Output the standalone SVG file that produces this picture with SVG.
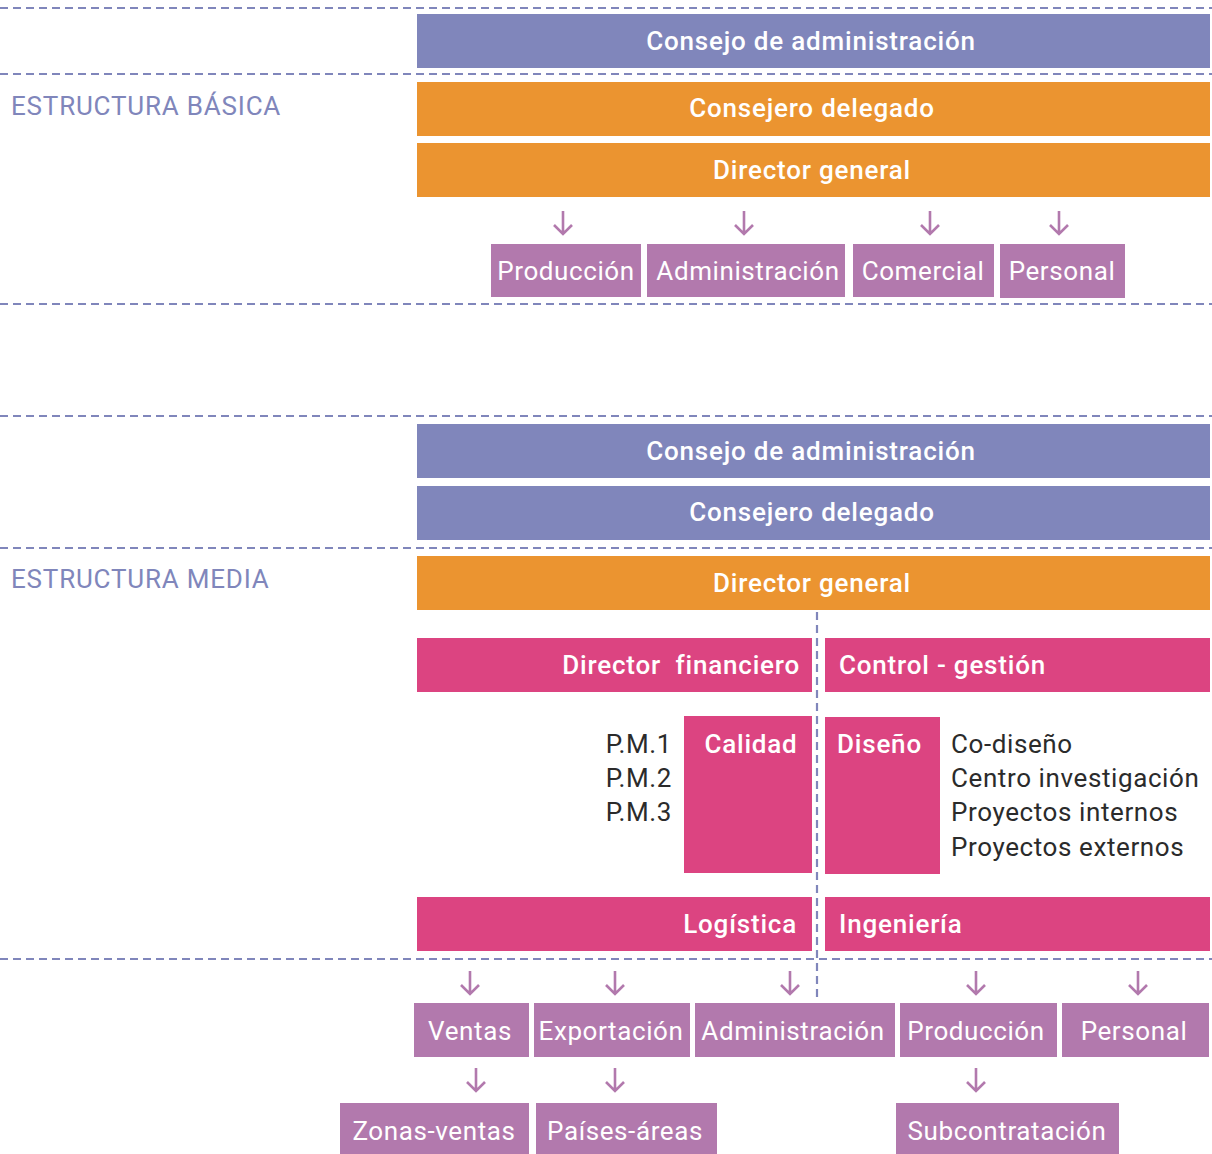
<svg xmlns="http://www.w3.org/2000/svg" width="1212" height="1154" viewBox="0 0 1212 1154">
<defs>
<style>
.sep{stroke:#8086bb;stroke-width:2.2;stroke-dasharray:8 5;fill:none}
.blue{fill:#8086bb}
.orange{fill:#eb9430}
.pink{fill:#dc4481}
.mauve{fill:#b279ad}
.hd{font-family:Roboto,"Liberation Sans",sans-serif;font-size:26px;font-weight:500;fill:#ffffff;letter-spacing:0.8px}
.lb{font-family:Roboto,"Liberation Sans",sans-serif;font-size:26px;font-weight:400;fill:#ffffff;letter-spacing:0.6px}
.dk{font-family:Roboto,"Liberation Sans",sans-serif;font-size:26px;font-weight:400;fill:#2b2b2b;letter-spacing:0.6px}
.sec{font-family:Roboto,"Liberation Sans",sans-serif;font-size:26px;font-weight:400;fill:#8086bb;letter-spacing:0.8px}
.arr{stroke:#b279ad;stroke-width:2.6;fill:none}
</style>
</defs>
<rect width="1212" height="1154" fill="#ffffff"/>
<g id="separators">
<line class="sep" x1="0" y1="8" x2="1212" y2="8"/>
<line class="sep" x1="0" y1="74" x2="1212" y2="74"/>
<line class="sep" x1="0" y1="304" x2="1212" y2="304"/>
<line class="sep" x1="0" y1="416" x2="1212" y2="416"/>
<line class="sep" x1="0" y1="548" x2="1212" y2="548"/>
<line class="sep" x1="0" y1="959" x2="1212" y2="959"/>
<line class="sep" x1="817" y1="612" x2="817" y2="997"/>
</g>
<text class="sec" x="11" y="115">ESTRUCTURA BÁSICA</text>
<text class="sec" x="11" y="588">ESTRUCTURA MEDIA</text>

<g id="b-consejo"><rect class="blue" x="417" y="14" width="793" height="54"/><text class="hd" x="811" y="50" text-anchor="middle">Consejo de administración</text></g>
<g id="b-delegado"><rect class="orange" x="417" y="82" width="793" height="54"/><text class="hd" x="812" y="117" text-anchor="middle">Consejero delegado</text></g>
<g id="b-director"><rect class="orange" x="417" y="143" width="793" height="54"/><text class="hd" x="812" y="179" text-anchor="middle">Director general</text></g>
<g id="b-produccion"><rect class="mauve" x="491" y="244" width="150" height="53"/><text class="lb" x="566" y="280" text-anchor="middle">Producción</text></g>
<g id="b-administracion"><rect class="mauve" x="647" y="244" width="198" height="53"/><text class="lb" x="748" y="280" text-anchor="middle">Administración</text></g>
<g id="b-comercial"><rect class="mauve" x="853" y="244" width="141" height="53"/><text class="lb" x="923" y="280" text-anchor="middle">Comercial</text></g>
<g id="b-personal"><rect class="mauve" x="1000" y="244" width="125" height="54"/><text class="lb" x="1062" y="280" text-anchor="middle">Personal</text></g>

<g id="m-consejo"><rect class="blue" x="417" y="424" width="793" height="54"/><text class="hd" x="811" y="460" text-anchor="middle">Consejo de administración</text></g>
<g id="m-delegado"><rect class="blue" x="417" y="486" width="793" height="54"/><text class="hd" x="812" y="521" text-anchor="middle">Consejero delegado</text></g>
<g id="m-director"><rect class="orange" x="417" y="556" width="793" height="54"/><text class="hd" x="812" y="592" text-anchor="middle">Director general</text></g>
<g id="m-financiero"><rect class="pink" x="417" y="638" width="395" height="54"/><text class="hd" x="800" y="674" text-anchor="end" xml:space="preserve">Director  financiero</text></g>
<g id="m-control"><rect class="pink" x="825" y="638" width="385" height="54"/><text class="hd" x="839" y="674">Control - gestión</text></g>
<g id="m-calidad"><rect class="pink" x="684" y="716" width="128" height="157"/><text class="hd" x="751" y="753" text-anchor="middle">Calidad</text></g>
<g id="m-pm"><text class="dk" x="672" y="753" text-anchor="end">P.M.1</text><text class="dk" x="672" y="787" text-anchor="end">P.M.2</text><text class="dk" x="672" y="821" text-anchor="end">P.M.3</text></g>
<g id="m-diseno"><rect class="pink" x="825" y="717" width="115" height="157"/><text class="hd" x="837" y="753">Diseño</text></g>
<g id="m-diseno-list"><text class="dk" x="951" y="753">Co-diseño</text><text class="dk" x="951" y="787">Centro investigación</text><text class="dk" x="951" y="821">Proyectos internos</text><text class="dk" x="951" y="856">Proyectos externos</text></g>
<g id="m-logistica"><rect class="pink" x="417" y="897" width="395" height="54"/><text class="hd" x="797" y="933" text-anchor="end">Logística</text></g>
<g id="m-ingenieria"><rect class="pink" x="825" y="897" width="385" height="54"/><text class="hd" x="839" y="933">Ingeniería</text></g>

<g id="m-ventas"><rect class="mauve" x="414" y="1003" width="115" height="54"/><text class="lb" x="470" y="1040" text-anchor="middle">Ventas</text></g>
<g id="m-exportacion"><rect class="mauve" x="534" y="1003" width="156" height="54"/><text class="lb" x="611" y="1040" text-anchor="middle">Exportación</text></g>
<g id="m-administracion"><rect class="mauve" x="695" y="1003" width="200" height="54"/><text class="lb" x="793" y="1040" text-anchor="middle">Administración</text></g>
<g id="m-produccion"><rect class="mauve" x="900" y="1003" width="157" height="54"/><text class="lb" x="976" y="1040" text-anchor="middle">Producción</text></g>
<g id="m-personal"><rect class="mauve" x="1062" y="1003" width="147" height="54"/><text class="lb" x="1134" y="1040" text-anchor="middle">Personal</text></g>
<g id="m-zonas"><rect class="mauve" x="340" y="1103" width="189" height="51"/><text class="lb" x="434" y="1140" text-anchor="middle">Zonas-ventas</text></g>
<g id="m-paises"><rect class="mauve" x="536" y="1103" width="181" height="51"/><text class="lb" x="625" y="1140" text-anchor="middle">Países-áreas</text></g>
<g id="m-subcontratacion"><rect class="mauve" x="896" y="1103" width="223" height="51"/><text class="lb" x="1007" y="1140" text-anchor="middle">Subcontratación</text></g>

<g id="connectors">
<path class="arr" d="M563 211V234M554 225L563 234L572 225"/>
<path class="arr" d="M744 211V234M735 225L744 234L753 225"/>
<path class="arr" d="M930 211V234M921 225L930 234L939 225"/>
<path class="arr" d="M1059 211V234M1050 225L1059 234L1068 225"/>
<path class="arr" d="M470 971V994M461 985L470 994L479 985"/>
<path class="arr" d="M615 971V994M606 985L615 994L624 985"/>
<path class="arr" d="M790 971V994M781 985L790 994L799 985"/>
<path class="arr" d="M976 971V994M967 985L976 994L985 985"/>
<path class="arr" d="M1138 971V994M1129 985L1138 994L1147 985"/>
<path class="arr" d="M476 1068V1091M467 1082L476 1091L485 1082"/>
<path class="arr" d="M615 1068V1091M606 1082L615 1091L624 1082"/>
<path class="arr" d="M976 1068V1091M967 1082L976 1091L985 1082"/>
</g>
</svg>
